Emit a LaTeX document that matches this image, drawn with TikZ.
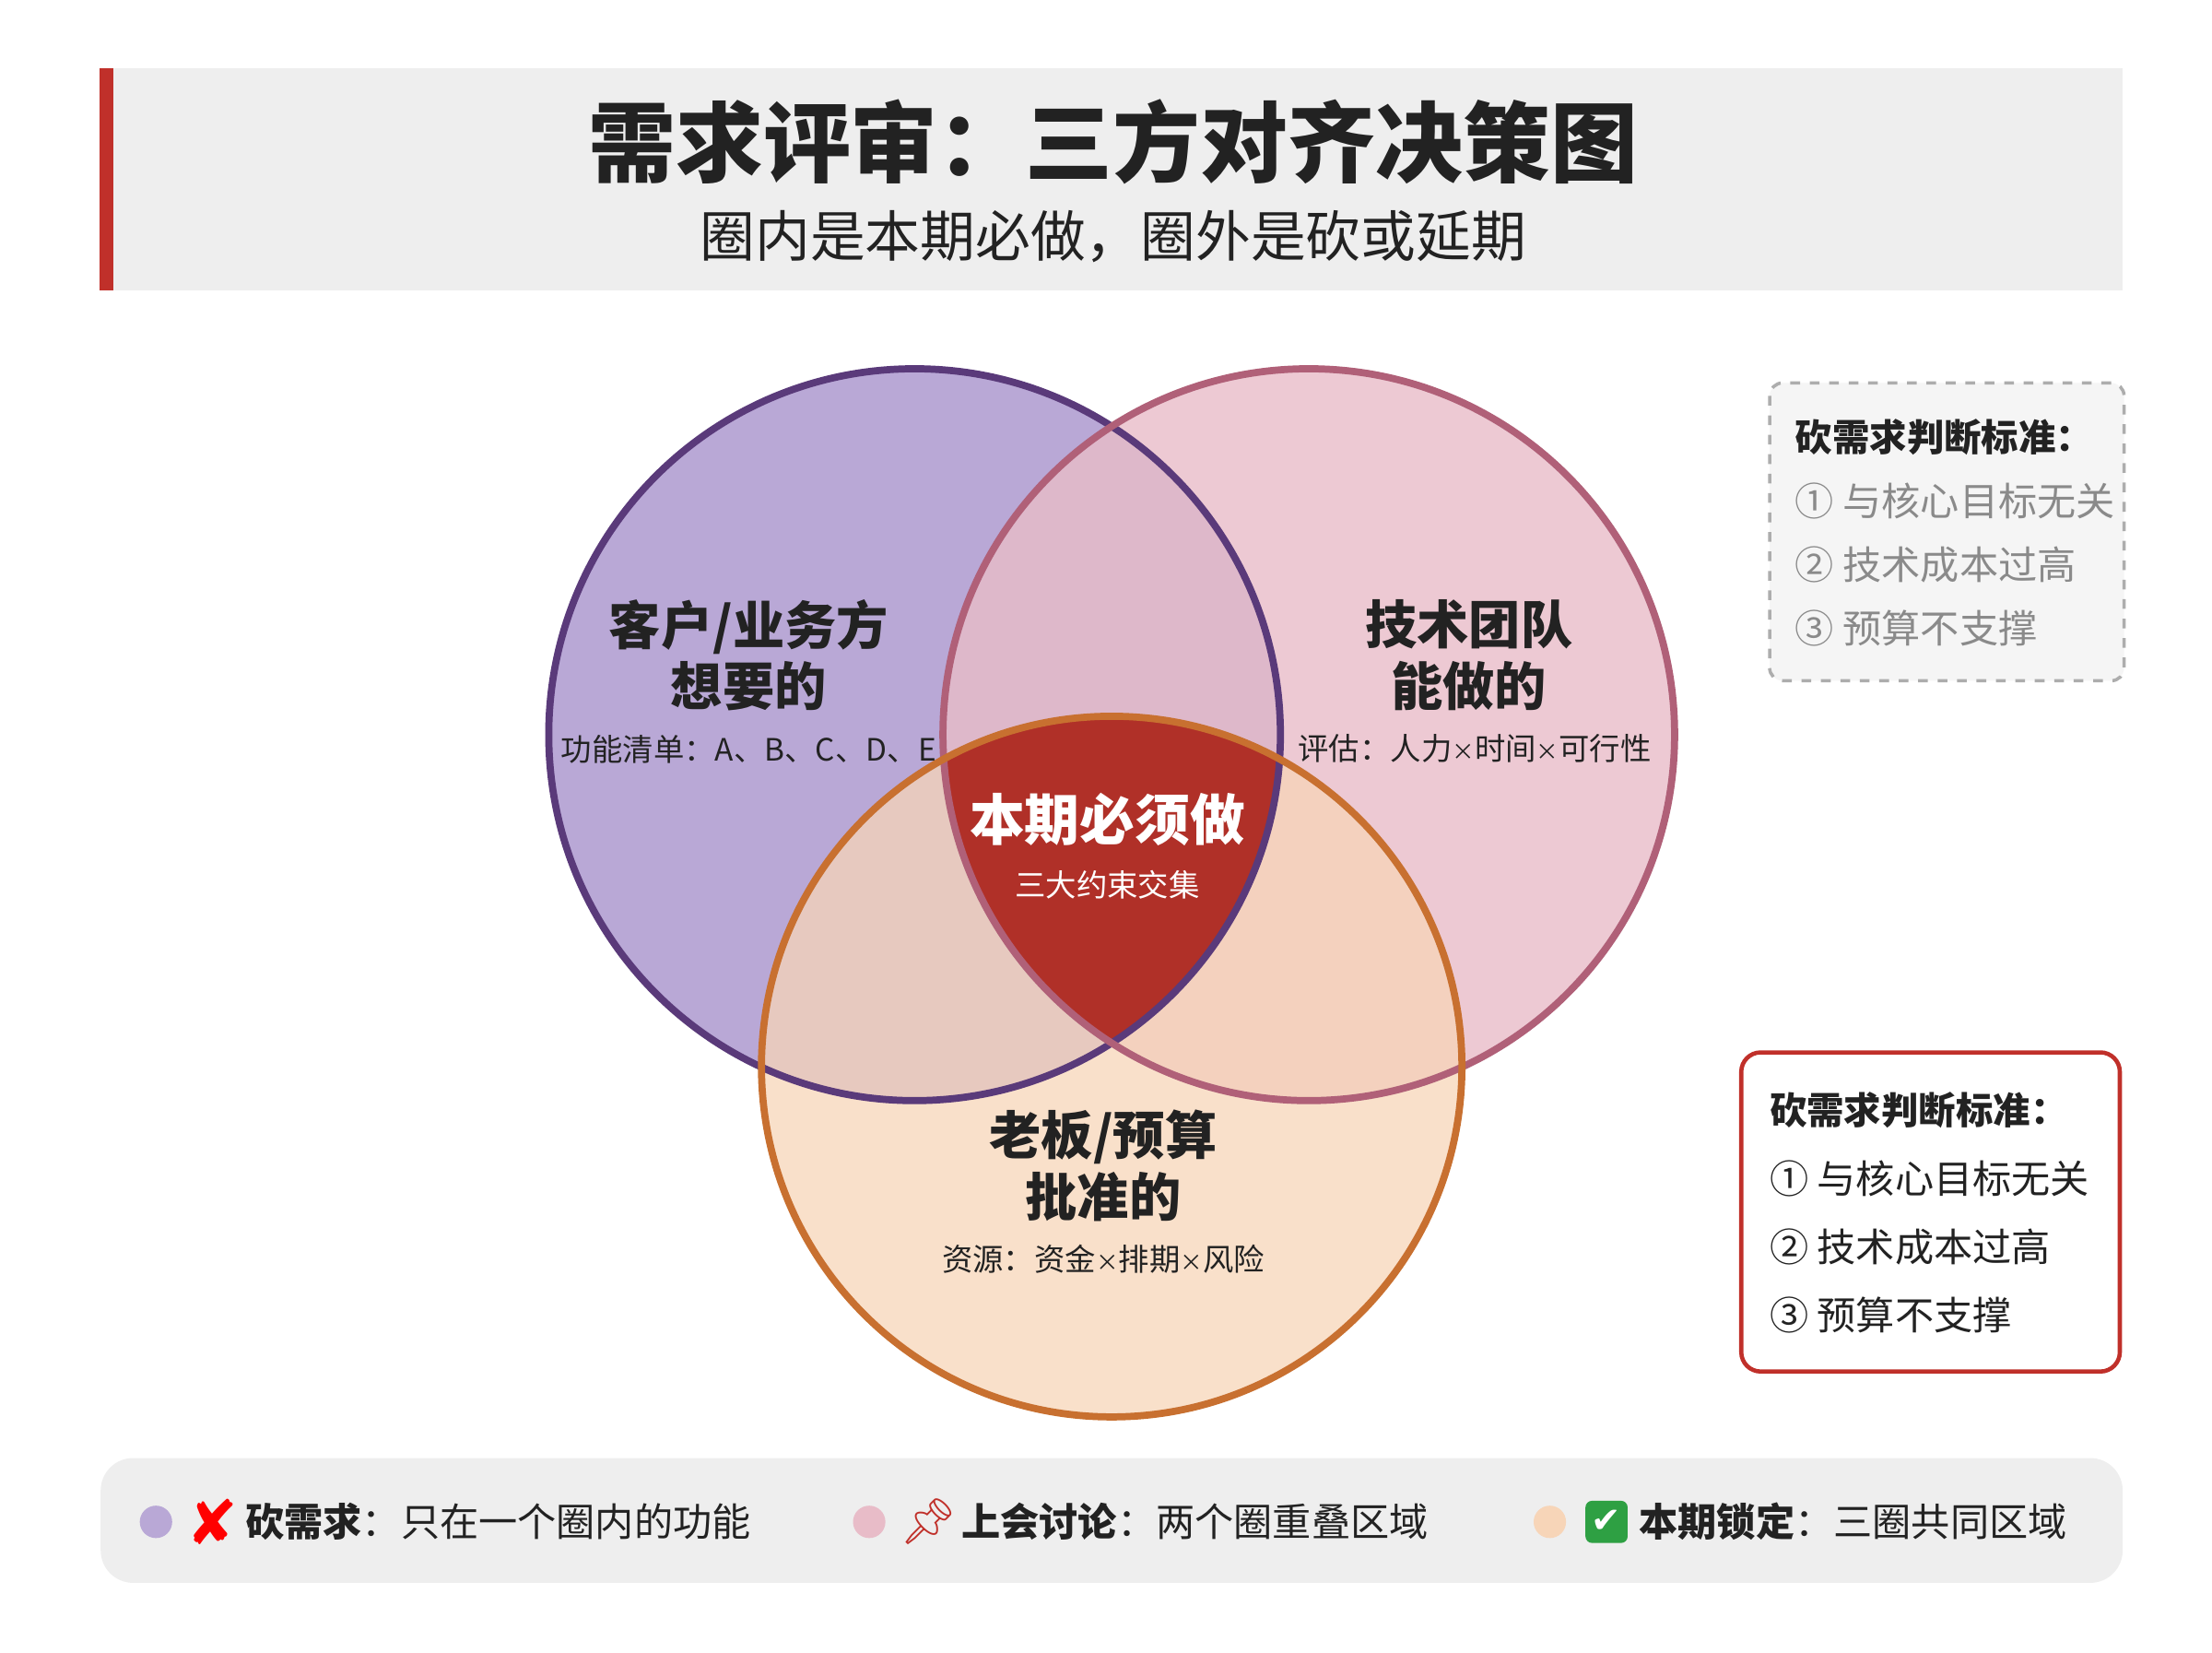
\documentclass[tikz,border=0pt]{standalone}
\usepackage{fontspec}
\setmainfont{Noto Sans CJK SC}
\newfontfamily\symfont{DejaVu Sans}
\newfontfamily\emojifont{Noto Emoji}
\definecolor{hdrgray}{HTML}{EEEEEE}
\definecolor{hdrred}{HTML}{C0302A}
\definecolor{txtdark}{HTML}{222222}
\definecolor{txtgray}{HTML}{8A8A8A}
\definecolor{cpurple}{HTML}{B9A8D6}
\definecolor{bpurple}{HTML}{5A3A7A}
\definecolor{cpink}{HTML}{E8BCC8}
\definecolor{bpink}{HTML}{B06078}
\definecolor{corange}{HTML}{F7D5B8}
\definecolor{borange}{HTML}{C87030}
\definecolor{coredred}{HTML}{B03028}
\definecolor{okgreen}{HTML}{2EA043}
\tikzset{
  big label/.style={font=\fontsize{16}{19}\selectfont\bfseries, text=txtdark, align=center},
  small label/.style={font=\fontsize{9.5}{11}\selectfont, text=txtdark},
  rule title/.style={font=\fontsize{11.5}{14}\selectfont\bfseries, text=txtdark, anchor=west},
  rule item/.style={font=\fontsize{12}{14}\selectfont, anchor=west},
  legend text/.style={font=\fontsize{12}{14}\selectfont, text=txtdark, anchor=west},
  legend dot/.style={circle, minimum size=10pt, inner sep=0pt},
}
\newcommand{\tms}{{\fontsize{7}{8}\selectfont ×}}
\begin{document}
\begin{tikzpicture}[x=0.01538cm, y=-0.01538cm]
        \useasboundingbox (0,0) rectangle (1560,1165);
        % header
        \fill[hdrgray] (70,48) rectangle (1497,205);
        \fill[hdrred] (70,48) rectangle (80,205);
        \node[font=\fontsize{27}{32}\selectfont\bfseries, text=txtdark] (title) at (785,100) {需求评审：三方对齐决策图};
        \node[font=\fontsize{17}{20}\selectfont, text=txtdark] (subtitle) at (785,167) {圈内是本期必做，圈外是砍或延期};

        % circles
        \fill[cpurple] (645,518) circle (258);
        \fill[cpink, opacity=0.8] (923,518) circle (258);
        \fill[corange, opacity=0.75] (784,752) circle (247);
        \begin{scope}
          \clip (645,518) circle (258);
          \clip (923,518) circle (258);
          \fill[coredred] (784,752) circle (247);
        \end{scope}
        \draw[bpurple, line width=2.2pt] (645,518) circle (258);
        \draw[bpink, line width=2.2pt] (923,518) circle (258);
        \draw[borange, line width=2.2pt] (784,752) circle (247);

        % circle labels
        \node[big label] (client) at (528,462) {客户/业务方\\想要的};
        \node[small label] (clientsub) at (528,528) {功能清单：A、B、C、D、E};
        \node[big label] (tech) at (1036,462) {技术团队\\能做的};
        \node[small label] (techsub) at (1040,528) {评估：人力\tms 时间\tms 可行性};
        \node[big label] (boss) at (778,822) {老板/预算\\批准的};
        \node[small label] (bosssub) at (778,888) {资源：资金\tms 排期\tms 风险};
        \node[font=\fontsize{17}{20}\selectfont\bfseries, text=white] (core) at (781,578) {本期必须做};
        \node[font=\fontsize{9.5}{11}\selectfont, text=white] (coresub) at (781,624) {三大约束交集};

        % rule boxes
        \draw[txtgray!70, dashed, line width=1pt, rounded corners=4pt, fill=hdrgray!60] (1248,270) rectangle (1498,480);
        \node[rule title] (rulea) at (1258,308) {砍需求判断标准：};
        \node[rule item, text=txtgray] (rulea1) at (1258,353) {① 与核心目标无关};
        \node[rule item, text=txtgray] (rulea2) at (1258,398) {② 技术成本过高};
        \node[rule item, text=txtgray] (rulea3) at (1258,443) {③ 预算不支撑};

        \draw[hdrred, line width=1.3pt, rounded corners=6pt, fill=white] (1228,742) rectangle (1495,967);
        \node[rule title] (ruleb) at (1240,783) {砍需求判断标准：};
        \node[rule item, text=txtdark] (ruleb1) at (1240,831) {① 与核心目标无关};
        \node[rule item, text=txtdark] (ruleb2) at (1240,879) {② 技术成本过高};
        \node[rule item, text=txtdark] (ruleb3) at (1240,927) {③ 预算不支撑};

        % legend
        \fill[hdrgray, rounded corners=10pt] (71,1028) rectangle (1497,1116);
        \node[legend dot, fill=cpurple] (dota) at (110,1073) {};
        \node[font=\fontsize{19}{22}\selectfont\symfont\bfseries, text=red] (cross) at (150,1073) {✘};
        \node[legend text] (lega) at (165,1073) {\textbf{砍需求}：只在一个圈内的功能};
        \node[legend dot, fill=cpink] (dotb) at (613,1073) {};
        \node[font=\fontsize{14}{16}\selectfont\emojifont, text=hdrred] (pin) at (655,1073) {📌};
        \node[legend text] (legb) at (670,1073) {\textbf{上会讨论}：两个圈重叠区域};
        \node[legend dot, fill=corange] (dotc) at (1093,1073) {};
        \node[fill=okgreen, rounded corners=2pt, minimum size=13pt, inner sep=0pt, text=white, font=\fontsize{11}{12}\selectfont\symfont\bfseries] (check) at (1133,1073) {✔};
        \node[legend text] (legc) at (1148,1073) {\textbf{本期锁定}：三圈共同区域};
\end{tikzpicture}
\end{document}
